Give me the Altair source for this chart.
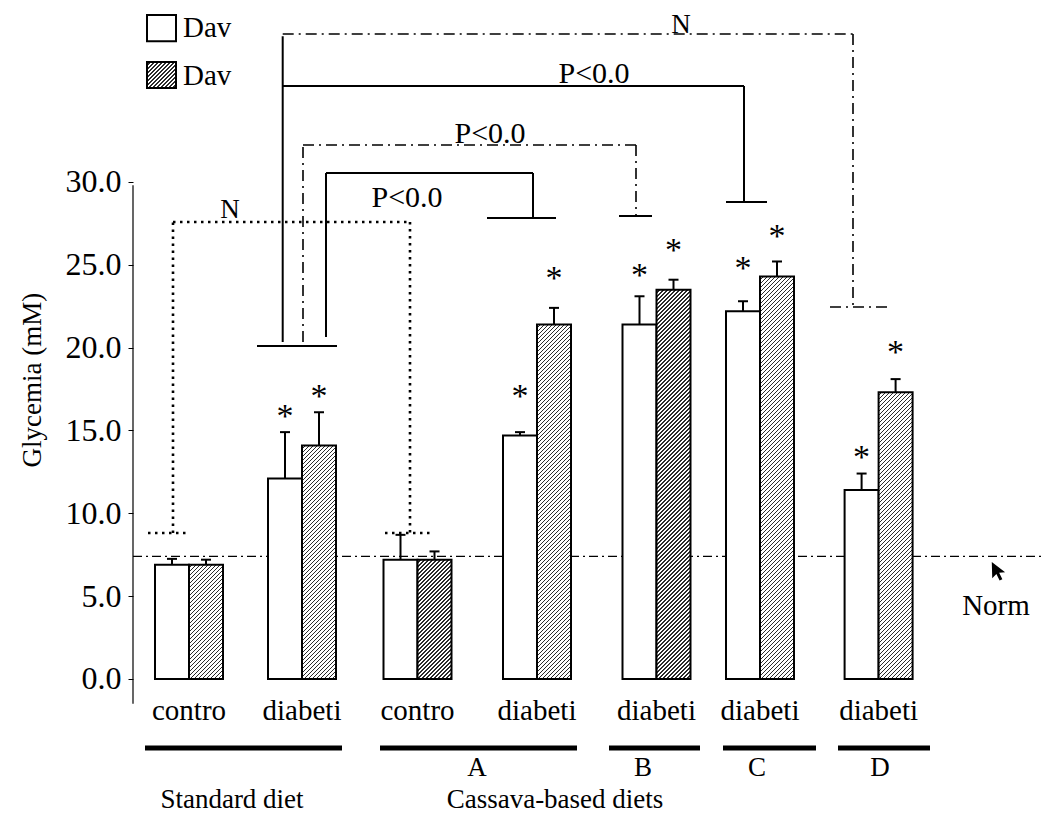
import altair as alt
import pandas as pd

# ---------------- data ----------------
groups = ["contro", "diabeti", "contro", "diabeti", "diabeti", "diabeti", "diabeti"]
day_first = [6.9, 12.1, 7.2, 14.7, 21.4, 22.2, 11.4]
day_first_err = [0.35, 2.8, 1.5, 0.2, 1.7, 0.6, 1.0]
day_second = [6.9, 14.1, 7.2, 21.4, 23.5, 24.3, 17.3]
day_second_err = [0.3, 2.0, 0.5, 1.0, 0.6, 0.9, 0.8]
sig_first = [False, True, False, True, True, True, True]
sig_second = [False, True, False, True, True, True, True]
diet_names = ["Standard diet", "Cassava-based diets"]
diet_variants = ["A", "B", "C", "D"]
legend_labels = ["Dav", "Dav"]
norm_value = 7.4
y_ticks = [0, 5, 10, 15, 20, 25, 30]

# ---------------- layout (x in layout units, y in mM) ----------------
group_x = [0.56, 1.69, 2.845, 4.04, 5.235, 6.27, 7.456]
bar_w = 0.34
star_first_y = [None, 16.23, None, 17.44, 24.74, 25.19, 13.76]
star_second_y = [None, 17.47, None, 24.56, 26.25, 27.10, 20.07]
X_DOM = [0, 9.11]
Y_DOM = [-8.21, 40.5]
W, H = 911, 807
PX_PER_MM = H / (Y_DOM[1] - Y_DOM[0])
PX_PER_XU = W / (X_DOM[1] - X_DOM[0])
FONT = "Liberation Serif"

xs = alt.Scale(domain=X_DOM, nice=False, zero=False)
ys = alt.Scale(domain=Y_DOM, nice=False, zero=False)
yaxis = alt.Axis(values=y_ticks, format=".1f", title=None, domain=False, grid=False,
                 tickSize=5, tickColor="black", tickWidth=1, labelPadding=7,
                 labelFont=FONT, labelFontSize=32, labelColor="black")


def X(f="x"):
    return alt.X(f"{f}:Q", scale=xs, axis=None)


def Y(f="y"):
    return alt.Y(f"{f}:Q", scale=ys, axis=yaxis)


def hatch(w_px, h_px, period=4.0, dark_frac=0.3, dark="#2b2b2b", light="#ffffff"):
    total = w_px + h_px
    n = int(total / period) + 1
    p = period / total
    stops = []
    for i in range(n):
        a, b, c = i * p, (i + 1 - dark_frac) * p, (i + 1) * p
        for off, col in ((a, light), (b, light), (b, dark), (c, dark)):
            stops.append(alt.GradientStop(offset=min(off, 1.0), color=col))
    k = total / (w_px ** 2 + h_px ** 2)
    return alt.LinearGradient(gradient="linear", stops=stops, x1=0, y1=0,
                              x2=w_px * k, y2=h_px * k)


def txt(df, size, **kw):
    return alt.Chart(df).mark_text(font=FONT, fontSize=size, color="black", **kw).encode(
        x=X(), y=Y(), text="t:N")


layers = []

# norm line
norm_df = pd.DataFrame({"x": [0.0], "x2": [X_DOM[1]], "y": [norm_value]})
layers.append(alt.Chart(norm_df).mark_rule(color="black", strokeWidth=1.3,
                                           strokeDash=[9, 4, 2, 4]).encode(
    x=X(), x2="x2:Q", y=Y()))

# y axis line
ax_df = pd.DataFrame({"x": [0.0], "y": [-1.5], "y2": [29.8]})
layers.append(alt.Chart(ax_df).mark_rule(color="black", strokeWidth=1.2).encode(
    x=X(), y=Y(), y2="y2:Q"))

# white bars
wb = pd.DataFrame({"x": [g - bar_w for g in group_x], "x2": group_x,
                   "y": [0.0] * 7, "y2": day_first})
layers.append(alt.Chart(wb).mark_rect(fill="white", stroke="black", strokeWidth=2).encode(
    x=X(), x2="x2:Q", y=Y(), y2="y2:Q"))

# hatched bars
for g, v in zip(group_x, day_second):
    df = pd.DataFrame({"x": [g], "x2": [g + bar_w], "y": [0.0], "y2": [v]})
    fill = hatch(bar_w * PX_PER_XU, v * PX_PER_MM)
    layers.append(alt.Chart(df).mark_rect(fill=fill, stroke="black", strokeWidth=2).encode(
        x=X(), x2="x2:Q", y=Y(), y2="y2:Q"))

# error bars (upper only)
ex, ey, ey2 = [], [], []
for g, v, e in zip(group_x, day_first, day_first_err):
    ex.append(g - bar_w / 2); ey.append(v); ey2.append(v + e)
for g, v, e in zip(group_x, day_second, day_second_err):
    ex.append(g + bar_w / 2); ey.append(v); ey2.append(v + e)
err_df = pd.DataFrame({"x": ex, "y": ey, "y2": ey2})
layers.append(alt.Chart(err_df).mark_rule(color="black", strokeWidth=2).encode(
    x=X(), y=Y(), y2="y2:Q"))
cap_df = pd.DataFrame({"x": [c - 0.05 for c in ex], "x2": [c + 0.05 for c in ex], "y": ey2})
layers.append(alt.Chart(cap_df).mark_rule(color="black", strokeWidth=2).encode(
    x=X(), x2="x2:Q", y=Y()))

# asterisks
sx, sy = [], []
for g, s, yy in zip(group_x, sig_first, star_first_y):
    if s:
        sx.append(g - bar_w / 2); sy.append(yy)
for g, s, yy in zip(group_x, sig_second, star_second_y):
    if s:
        sx.append(g + bar_w / 2); sy.append(yy)
star_df = pd.DataFrame({"x": sx, "y": sy, "t": ["*"] * len(sx)})
layers.append(txt(star_df, 34, baseline="middle", dy=7))

# category labels
cat_df = pd.DataFrame({"x": group_x, "y": [-2.47] * 7, "t": groups})
layers.append(txt(cat_df, 29, baseline="alphabetic"))

# thick group underlines
ul_df = pd.DataFrame({"x": [0.12, 2.47, 4.76, 5.90, 7.05],
                      "x2": [2.09, 4.44, 5.67, 6.83, 7.97],
                      "y": [-4.16] * 5})
layers.append(alt.Chart(ul_df).mark_rule(color="black", strokeWidth=5).encode(
    x=X(), x2="x2:Q", y=Y()))

# diet variant letters and diet names
let_df = pd.DataFrame({"x": [3.44, 5.10, 6.24, 7.47], "y": [-5.85] * 4, "t": diet_variants})
layers.append(txt(let_df, 27, baseline="alphabetic"))
dn_df = pd.DataFrame({"x": [0.99, 4.22], "y": [-7.78] * 2, "t": diet_names})
layers.append(txt(dn_df, 27, baseline="alphabetic"))

# significance brackets
solid = [
    (1.497, 20.34, 1.497, 38.8),
    (1.497, 35.79, 6.11, 35.79), (6.11, 35.79, 6.11, 28.79), (5.93, 28.79, 6.34, 28.79),
    (1.93, 20.64, 1.93, 30.54), (1.93, 30.54, 4.00, 30.54), (4.00, 30.54, 4.00, 27.82),
    (3.54, 27.82, 4.23, 27.82),
    (1.24, 20.10, 2.04, 20.10),
    (4.86, 27.94, 5.19, 27.94),
]
dashdot = [
    (1.497, 38.93, 7.20, 38.93), (7.20, 38.93, 7.20, 22.45), (6.97, 22.45, 7.57, 22.45),
    (1.70, 20.34, 1.70, 32.23), (1.70, 32.23, 5.03, 32.23), (5.03, 32.23, 5.03, 27.94),
]
dotted = [
    (0.40, 8.81, 0.40, 27.58), (0.40, 27.58, 2.77, 27.58), (2.77, 27.58, 2.77, 8.81),
    (0.15, 8.81, 0.57, 8.81), (2.52, 8.81, 3.00, 8.81),
]


def seg_df(segs):
    return pd.DataFrame(segs, columns=["x", "y", "x2", "y2"])


layers.append(alt.Chart(seg_df(solid)).mark_rule(color="black", strokeWidth=2).encode(
    x=X(), y=Y(), x2="x2:Q", y2="y2:Q"))
layers.append(alt.Chart(seg_df(dashdot)).mark_rule(color="black", strokeWidth=1.6,
                                                   strokeDash=[11, 5, 2, 5]).encode(
    x=X(), y=Y(), x2="x2:Q", y2="y2:Q"))
layers.append(alt.Chart(seg_df(dotted)).mark_rule(color="black", strokeWidth=2.6,
                                                  strokeDash=[2.5, 4.5]).encode(
    x=X(), y=Y(), x2="x2:Q", y2="y2:Q"))

p_txt = pd.DataFrame({"x": [4.61, 3.57, 2.74], "y": [35.97, 32.35, 28.49],
                      "t": ["P<0.0", "P<0.0", "P<0.0"]})
layers.append(txt(p_txt, 30, baseline="alphabetic"))
n_txt = pd.DataFrame({"x": [0.97, 5.48], "y": [27.82, 38.97], "t": ["N", "N"]})
layers.append(txt(n_txt, 27, baseline="alphabetic"))

# legend
lg_white = pd.DataFrame({"x": [0.14], "x2": [0.43], "y": [38.50], "y2": [40.07]})
layers.append(alt.Chart(lg_white).mark_rect(fill="white", stroke="black", strokeWidth=2).encode(
    x=X(), x2="x2:Q", y=Y(), y2="y2:Q"))
lg_hatch = pd.DataFrame({"x": [0.14], "x2": [0.43], "y": [35.67], "y2": [37.24]})
layers.append(alt.Chart(lg_hatch).mark_rect(
    fill=hatch(0.29 * PX_PER_XU, 1.57 * PX_PER_MM), stroke="black", strokeWidth=2).encode(
    x=X(), x2="x2:Q", y=Y(), y2="y2:Q"))
lg_txt = pd.DataFrame({"x": [0.50, 0.50], "y": [38.74, 35.85], "t": legend_labels})
layers.append(txt(lg_txt, 29, align="left", baseline="alphabetic"))

# Norm label and arrow
nm_txt = pd.DataFrame({"x": [8.63], "y": [3.86], "t": ["Norm"]})
layers.append(txt(nm_txt, 29, baseline="alphabetic"))
arrow_path = "M-1,-1 L-0.95,0.75 L-0.5,0.3 L-0.15,1 L0.15,0.85 L-0.2,0.15 L0.45,0.1 Z"
ar_df = pd.DataFrame({"x": [8.68], "y": [6.5]})
layers.append(alt.Chart(ar_df).mark_point(shape=arrow_path, filled=True, color="black",
                                          size=340, opacity=1).encode(
    x=X(), y=Y()))

# y title
yt = pd.DataFrame({"x": [-1.0], "y": [18.04], "t": ["Glycemia (mM)"]})
layers.append(txt(yt, 27, angle=270, baseline="middle", align="center"))

chart = alt.layer(*layers).properties(
    width=W, height=H,
    autosize=alt.AutoSizeParams(type="none"),
    padding={"left": 125, "top": 0, "right": 0, "bottom": 0},
    background="white",
).configure_view(stroke=None)

chart.save("out.html", embed_options={"renderer": "svg", "actions": False})
